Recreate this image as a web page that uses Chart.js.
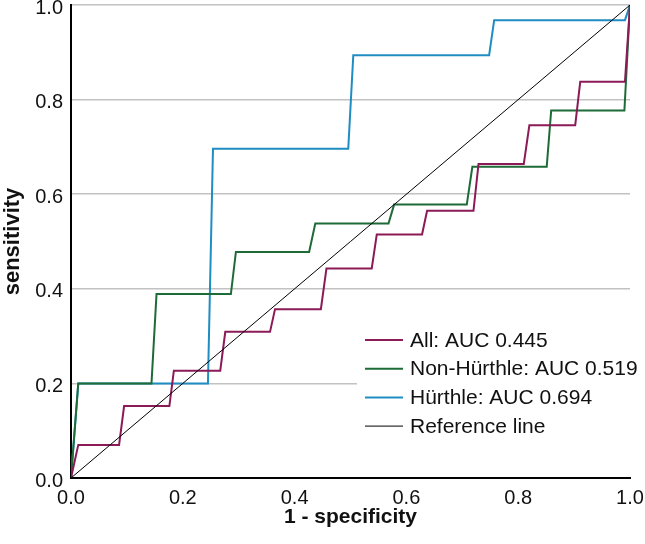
<!DOCTYPE html>
<html>
<head>
<meta charset="utf-8">
<script src="https://cdn.jsdelivr.net/npm/chart.js@4"></script>
<style>
  html, body { margin: 0; padding: 0; background: #fff; }
  #wrap { width: 645px; height: 544px; }
</style>
</head>
<body>
<div id="wrap"><canvas id="rocChart"></canvas></div>
<script>
// ROC curve points (1 - specificity, sensitivity)
const allFpr = [0, 0.013, 0.086, 0.095, 0.176, 0.184, 0.267, 0.276, 0.356, 0.365, 0.447, 0.457, 0.538, 0.547, 0.628, 0.637, 0.720, 0.729, 0.810, 0.820, 0.902, 0.911, 0.991, 1];
const allTpr = [0, 0.070, 0.070, 0.152, 0.152, 0.227, 0.227, 0.309, 0.309, 0.357, 0.357, 0.443, 0.443, 0.515, 0.515, 0.565, 0.565, 0.664, 0.664, 0.746, 0.746, 0.838, 0.838, 1];

const nonFpr = [0, 0.013, 0.144, 0.153, 0.286, 0.295, 0.426, 0.437, 0.568, 0.578, 0.708, 0.718, 0.851, 0.859, 0.990, 1];
const nonTpr = [0, 0.200, 0.200, 0.389, 0.389, 0.478, 0.478, 0.538, 0.538, 0.578, 0.578, 0.658, 0.658, 0.777, 0.777, 1];

const hurFpr = [0, 0.013, 0.245, 0.254, 0.496, 0.505, 0.748, 0.757, 0.991, 1];
const hurTpr = [0, 0.200, 0.200, 0.696, 0.696, 0.894, 0.894, 0.968, 0.968, 1];

const refFpr = [0, 1];
const refTpr = [0, 1];

const seriesLabels = ['All: AUC 0.445', 'Non-Hürthle: AUC 0.519', 'Hürthle: AUC 0.694', 'Reference line'];
const axisTicks = [0, 0.2, 0.4, 0.6, 0.8, 1.0];

const FONT = '"Liberation Sans", Arial, sans-serif';

function toPoints(xs, ys) {
  return xs.map((x, i) => ({ x: x, y: ys[i] }));
}

// Legend box drawn inside the plot, bottom right
const insideLegend = {
  id: 'insideLegend',
  afterDatasetsDraw(chart) {
    const ctx = chart.ctx;
    ctx.save();
    ctx.fillStyle = '#fff';
    ctx.fillRect(357, 312, 288, 132);
    ctx.font = '21px ' + FONT;
    ctx.textBaseline = 'middle';
    chart.data.datasets.forEach((ds, i) => {
      const y = 340 + i * 28.7;
      ctx.strokeStyle = ds.borderColor;
      ctx.lineWidth = ds.borderWidth;
      ctx.beginPath();
      ctx.moveTo(365, y);
      ctx.lineTo(403, y);
      ctx.stroke();
      ctx.fillStyle = '#111';
      ctx.fillText(ds.label, 410, y + 1);
    });
    ctx.restore();
  }
};

// keep the plot area fixed: no extra room for the end tick labels
function noLabelPadding(scale) {
  scale.paddingTop = 0;
  scale.paddingBottom = 0;
  scale.paddingLeft = 0;
  scale.paddingRight = 0;
}

const ctx = document.getElementById('rocChart').getContext('2d');

const rocChart = new Chart(ctx, {
  type: 'scatter',
  data: {
    datasets: [
      { label: seriesLabels[0], data: toPoints(allFpr, allTpr), borderColor: '#8b1a57', borderWidth: 2, order: 1 },
      { label: seriesLabels[1], data: toPoints(nonFpr, nonTpr), borderColor: '#1d6b37', borderWidth: 2, order: 2 },
      { label: seriesLabels[2], data: toPoints(hurFpr, hurTpr), borderColor: '#1f8cc2', borderWidth: 2, order: 3 },
      { label: seriesLabels[3], data: toPoints(refFpr, refTpr), borderColor: '#000000', borderWidth: 1, order: 0 }
    ].map(ds => Object.assign(ds, { showLine: true, pointRadius: 0, fill: false, tension: 0 }))
  },
  options: {
    responsive: true,
    maintainAspectRatio: false,
    animation: false,
    layout: { padding: { left: 0, right: 15, top: 5, bottom: 0 } },
    plugins: {
      legend: { display: false },
      tooltip: { enabled: false }
    },
    scales: {
      x: {
        type: 'linear',
        min: 0,
        max: 1,
        afterBuildTicks: (scale) => { scale.ticks = axisTicks.map(v => ({ value: v })); },
        afterFit: (scale) => { scale.height = 66; noLabelPadding(scale); },
        grid: { display: false, drawTicks: false },
        border: { display: true, color: '#000', width: 2 },
        ticks: {
          padding: 8,
          color: '#111',
          font: { family: FONT, size: 20 },
          callback: (v) => Number(v).toFixed(1)
        },
        title: {
          display: true,
          text: '1 - specificity',
          color: '#111',
          font: { family: FONT, size: 21, weight: 'bold' },
          padding: { top: 0, bottom: 14 }
        }
      },
      y: {
        type: 'linear',
        min: 0,
        max: 1,
        afterBuildTicks: (scale) => { scale.ticks = axisTicks.map(v => ({ value: v })); },
        afterFit: (scale) => { scale.width = 71; noLabelPadding(scale); },
        grid: { display: true, color: '#c2c2c2', lineWidth: 1.5, drawTicks: false },
        border: { display: true, color: '#000', width: 2 },
        ticks: {
          padding: 8,
          labelOffset: 3,
          color: '#111',
          font: { family: FONT, size: 20 },
          callback: (v) => Number(v).toFixed(1)
        },
        title: {
          display: true,
          text: 'sensitivity',
          color: '#111',
          font: { family: FONT, size: 22, weight: 'bold' },
          padding: { top: 0, bottom: 0 }
        }
      }
    }
  },
  plugins: [insideLegend]
});
</script>
</body>
</html>
